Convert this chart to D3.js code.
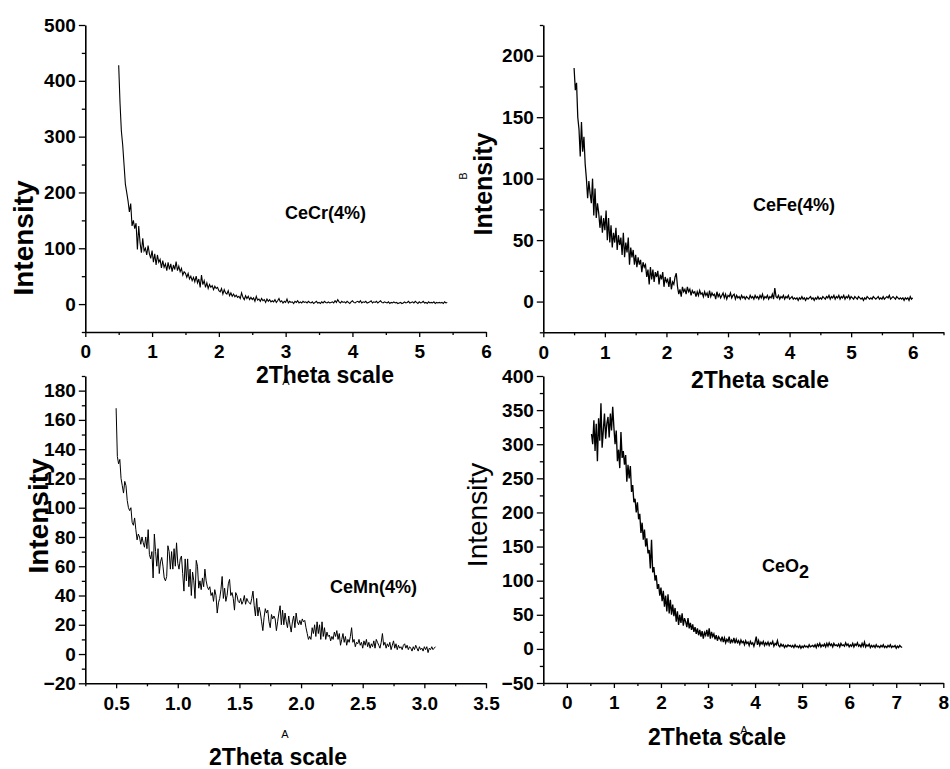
<!DOCTYPE html>
<html lang="en">
<head>
<meta charset="utf-8">
<title>Low angle XRD</title>
<script src="https://d3js.org/d3.v7.min.js"></script>
<style>
  * { margin: 0; padding: 0; }
  body { background: white; width: 950px; height: 769px; overflow: hidden; }
  svg { display: block; }
  .major .domain { stroke-width: 1.6px; }
  .minor .domain { stroke: none; }
  .tick line { stroke-width: 1.3px; }
</style>
</head>
<body>
<script>
const FONT = "'Liberation Sans', Arial, Helvetica, sans-serif";

// CeCr(4%) scan: 2theta from 0.50, step 0.02
const crStart = 0.5, crStep = 0.02;
const crIntensity = [
  428, 360, 310, 285, 250, 215, 200, 185, 165, 180,
  140, 150, 135, 145, 98, 140, 110, 92, 118, 95,
  100, 88, 105, 90, 82, 96, 75, 90, 70, 88,
  75, 80, 65, 78, 66, 72, 60, 75, 62, 72,
  58, 70, 62, 76, 60, 68, 58, 64, 52, 58,
  55, 48, 55, 45, 50, 42, 48, 40, 50, 38,
  45, 30, 52, 35, 42, 30, 38, 28, 35, 30,
  33, 26, 32, 28, 30, 24, 22, 28, 18, 26,
  20, 18, 24, 15, 20, 14, 18, 13, 16, 12,
  14, 10, 20, 12, 8, 15, 10, 14, 8, 12,
  8, 11, 5, 14, 7, 9, 5, 10, 6, 8,
  3, 9, 5, 8, 4, 6, 4, 8, 3, 6,
  10, 4, 6, 2, 5, 3, 9, 2, 5, 3,
  4, 1, 5, 3, 6, 2, 4, 2, 5, 3,
  4, 2, 5, 3, 2, 4, 1, 3, 5, 2,
  3, 1, 4, 2, 5, 3, 2, 4, 2, 3,
  4, 2, 6, 3, 8, 4, 2, 5, 3, 4,
  2, 5, 3, 1, 4, 6, 3, 2, 4, 5,
  3, 6, 2, 4, 3, 5, 2, 3, 4, 6,
  2, 4, 3, 5, 2, 4, 6, 3, 2, 4,
  3, 2, 4, 1, 3, 2, 4, 2, 3, 1,
  2, 3, 1, 2, 4, 2, 3, 5, 2, 3,
  4, 2, 5, 3, 1, 4, 2, 3, 5, 2,
  3, 1, 4, 2, 3, 2, 4, 1, 3, 2,
  3, 2, 3, 1, 4, 2, 3
];

// CeFe(4%) scan: 2theta from 0.50, step 0.02
const feStart = 0.5, feStep = 0.02;
const feIntensity = [
  190, 172, 178, 150, 140, 118, 146, 122, 134, 112,
  100, 84, 98, 88, 80, 100, 70, 92, 68, 80,
  72, 60, 70, 56, 68, 58, 74, 50, 68, 48,
  62, 44, 56, 48, 60, 42, 54, 46, 52, 38,
  56, 36, 48, 40, 52, 30, 44, 36, 42, 30,
  38, 28, 36, 30, 34, 24, 32, 28, 30, 20,
  26, 14, 28, 18, 26, 16, 24, 20, 25, 14,
  22, 18, 24, 12, 20, 16, 18, 12, 20, 10,
  16, 14, 20, 23, 12, 6, 10, 4, 12, 8,
  10, 6, 12, 8, 10, 5, 9, 7, 8, 4,
  8, 5, 9, 6, 7, 4, 8, 5, 7, 3,
  9, 4, 7, 5, 6, 2, 8, 4, 6, 3,
  5, 7, 3, 6, 2, 5, 4, 7, 3, 5,
  6, 2, 5, 3, 4, 2, 5, 3, 4, 2,
  4, 3, 2, 5, 3, 4, 2, 5, 3, 4,
  2, 5, 3, 6, 2, 4, 3, 5, 2, 4,
  3, 6, 2, 11, 4, 3, 5, 2, 4, 3,
  5, 2, 4, 3, 5, 2, 3, 4, 2, 3,
  2, 3, 1, 3, 2, 4, 2, 3, 1, 3,
  2, 3, 4, 2, 3, 1, 3, 2, 4, 2,
  3, 2, 4, 3, 2, 4, 3, 5, 2, 4,
  3, 5, 2, 4, 3, 5, 2, 4, 3, 5,
  2, 4, 3, 5, 2, 4, 3, 2, 4, 3,
  2, 4, 3, 2, 3, 1, 3, 2, 4, 3,
  2, 3, 2, 4, 3, 2, 3, 4, 2, 3,
  2, 4, 2, 3, 4, 3, 5, 2, 3, 4,
  3, 2, 4, 3, 2, 3, 2, 3, 1, 3,
  2, 3, 1, 4, 2, 3
];

// CeMn(4%) scan: 2theta from 0.50, step 0.01
const mnStart = 0.5, mnStep = 0.01;
const mnIntensity = [
  168, 135, 130, 133, 120, 115, 110, 118, 115, 105,
  100, 98, 100, 90, 88, 93, 85, 78, 82, 80,
  75, 80, 76, 73, 80, 72, 85, 68, 65, 70,
  52, 82, 70, 60, 72, 55, 63, 66, 60, 52,
  50, 53, 74, 70, 58, 70, 58, 72, 60, 76,
  62, 58, 65, 67, 55, 43, 65, 50, 65, 46,
  58, 40, 56, 50, 38, 64, 60, 45, 50, 44,
  52, 46, 58, 50, 46, 44, 46, 40, 42, 36,
  44, 40, 28, 35, 38, 44, 53, 38, 45, 36,
  40, 48, 51, 40, 42, 38, 30, 42, 40, 36,
  35, 38, 34, 36, 40, 34, 38, 36, 35, 34,
  38, 43, 33, 26, 38, 26, 32, 28, 22, 16,
  25, 31, 28, 30, 22, 18, 27, 24, 26, 24,
  16, 22, 28, 33, 20, 30, 20, 28, 22, 18,
  26, 20, 15, 22, 26, 18, 28, 22, 20, 23,
  20, 24, 22, 23, 18, 14, 10, 12, 10, 18,
  14, 20, 12, 22, 14, 20, 10, 22, 12, 18,
  10, 15, 12, 13, 9, 12, 10, 15, 12, 16,
  10, 14, 6, 10, 14, 8, 12, 6, 10, 8,
  12, 18, 8, 10, 5, 8, 7, 10, 6, 8,
  4, 9, 6, 10, 5, 8, 4, 7, 5, 9,
  4, 10, 8, 6, 4, 8, 14, 6, 8, 4,
  7, 5, 8, 3, 6, 9, 4, 7, 3, 6,
  4, 5, 3, 6, 7, 4, 6, 3, 5, 4,
  2, 5, 3, 6, 4, 2, 5, 3, 4, 2,
  5, 3, 5, 1, 4, 3, 5, 3, 4, 5
];

// CeO2 scan: 2theta from 0.525, step 0.025
const ceoStart = 0.525, ceoStep = 0.025;
const ceoIntensity = [
  315, 300, 335, 290, 330, 275, 338, 305, 360, 295,
  320, 345, 308, 330, 340, 310, 345, 320, 355, 325,
  300, 320, 275, 292, 265, 318, 280, 290, 270, 284,
  245, 270, 250, 268, 230, 240, 215, 220, 200, 215,
  190, 198, 170, 185, 160, 175, 150, 162, 140, 145,
  118, 160, 112, 120, 100, 108, 88, 95, 78, 90,
  70, 85, 62, 78, 55, 80, 52, 72, 50, 65,
  48, 60, 40, 55, 35, 50, 38, 52, 34, 45,
  40, 32, 45, 30, 38, 28, 36, 25, 32, 22,
  30, 20, 28, 18, 26, 15, 24, 20, 28, 18,
  30, 15, 25, 18, 22, 14, 20, 12, 18, 15,
  12, 18, 10, 16, 9, 14, 11, 18, 8, 13,
  10, 16, 8, 14, 9, 12, 7, 13, 9, 11,
  6, 12, 8, 10, 5, 11, 7, 9, 4, 10,
  18, 6, 12, 5, 10, 7, 11, 5, 9, 6,
  10, 5, 9, 7, 11, 4, 8, 6, 12, 5,
  3, 7, 4, 6, 2, 5, 3, 6, 4, 5,
  3, 5, 2, 6, 3, 4, 2, 5, 1, 4,
  2, 5, 3, 4, 2, 6, 3, 4, 5, 3,
  6, 2, 7, 4, 8, 3, 6, 4, 7, 3,
  8, 4, 9, 5, 7, 3, 8, 5, 6, 4,
  7, 3, 8, 5, 6, 4, 9, 5, 7, 3,
  6, 4, 8, 3, 7, 5, 9, 4, 6, 3,
  8, 4, 10, 3, 6, 4, 7, 2, 5, 3,
  5, 2, 6, 3, 4, 2, 5, 3, 6, 2,
  4, 2, 5, 3, 6, 2, 4, 3, 5, 1,
  4, 2, 5, 3, 2
];

// tick values
const crXTicks = [0, 1, 2, 3, 4, 5, 6];
const crXMinor = [0.5, 1.5, 2.5, 3.5, 4.5, 5.5];
const crYTicks = [0, 100, 200, 300, 400, 500];
const crYMinor = [-50, 50, 150, 250, 350, 450];

const feXTicks = [0, 1, 2, 3, 4, 5, 6];
const feXMinor = [0.5, 1.5, 2.5, 3.5, 4.5, 5.5, 6.5];
const feYTicks = [0, 50, 100, 150, 200];
const feYMinor = [-25, 25, 75, 125, 175, 225];

const mnXTicks = [0.5, 1.0, 1.5, 2.0, 2.5, 3.0, 3.5];
const mnXMinor = [0.25, 0.75, 1.25, 1.75, 2.25, 2.75, 3.25];
const mnYTicks = [-20, 0, 20, 40, 60, 80, 100, 120, 140, 160, 180];
const mnYMinor = [-10, 10, 30, 50, 70, 90, 110, 130, 150, 170, 190];

const ceoXTicks = [0, 1, 2, 3, 4, 5, 6, 7, 8];
const ceoXMinor = [-0.5, 0.5, 1.5, 2.5, 3.5, 4.5, 5.5, 6.5, 7.5];
const ceoYTicks = [-50, 0, 50, 100, 150, 200, 250, 300, 350, 400];
const ceoYMinor = [-25, 25, 75, 125, 175, 225, 275, 325, 375];

const svg = d3.select("body")
  .append("svg")
  .attr("width", 950)
  .attr("height", 769)
  .attr("font-family", FONT);

const drawPanel = (p) => {
  const x = d3.scaleLinear().domain(p.xDomain).range(p.xRange);
  const y = d3.scaleLinear().domain(p.yDomain).range(p.yRange);
  const g = svg.append("g");

  // minor ticks first, no labels
  g.append("g")
    .attr("class", "minor")
    .attr("transform", `translate(0,${p.yRange[0]})`)
    .call(d3.axisBottom(x).tickValues(p.xMinor).tickSize(3).tickSizeOuter(0).tickFormat(""));
  g.append("g")
    .attr("class", "minor")
    .attr("transform", `translate(${p.xRange[0]},0)`)
    .call(d3.axisLeft(y).tickValues(p.yMinor).tickSize(3.5).tickSizeOuter(0).tickFormat(""));

  const xAxis = g.append("g")
    .attr("class", "major")
    .attr("transform", `translate(0,${p.yRange[0]})`)
    .call(d3.axisBottom(x).tickValues(p.xTicks).tickSize(5).tickPadding(8)
      .tickSizeOuter(0).tickFormat(p.xFormat));
  const yAxis = g.append("g")
    .attr("class", "major")
    .attr("transform", `translate(${p.xRange[0]},0)`)
    .call(d3.axisLeft(y).tickValues(p.yTicks).tickSize(6.5).tickPadding(3)
      .tickSizeOuter(0).tickFormat(d3.format("d")));

  [xAxis, yAxis].forEach(a => a.selectAll("text")
    .attr("font-size", 19)
    .attr("font-weight", "bold")
    .attr("font-family", FONT));

  const line = d3.line()
    .x((d, i) => x(p.start + i * p.step))
    .y(d => y(d));

  g.append("path")
    .datum(p.values)
    .attr("d", line)
    .attr("fill", "none")
    .attr("stroke", "black")
    .attr("stroke-width", p.lineWidth)
    .attr("stroke-linejoin", "miter");
};

drawPanel({ xDomain: [0, 6], xRange: [85.3, 486], yDomain: [-50, 500], yRange: [332, 25],
  xTicks: crXTicks, xMinor: crXMinor, yTicks: crYTicks, yMinor: crYMinor, xFormat: d3.format("d"),
  start: crStart, step: crStep, values: crIntensity, lineWidth: 1.1 });

drawPanel({ xDomain: [0, 6.5], xRange: [543.3, 943.5], yDomain: [-25, 225], yRange: [332.3, 25],
  xTicks: feXTicks, xMinor: feXMinor, yTicks: feYTicks, yMinor: feYMinor, xFormat: d3.format("d"),
  start: feStart, step: feStep, values: feIntensity, lineWidth: 1.25 });

drawPanel({ xDomain: [0.25, 3.5], xRange: [85.3, 486], yDomain: [-20, 190], yRange: [683.3, 376],
  xTicks: mnXTicks, xMinor: mnXMinor, yTicks: mnYTicks, yMinor: mnYMinor, xFormat: d3.format(".1f"),
  start: mnStart, step: mnStep, values: mnIntensity, lineWidth: 1 });

drawPanel({ xDomain: [-0.5, 8], xRange: [543.3, 943.3], yDomain: [-50, 400], yRange: [683, 376],
  xTicks: ceoXTicks, xMinor: ceoXMinor, yTicks: ceoYTicks, yMinor: ceoYMinor, xFormat: d3.format("d"),
  start: ceoStart, step: ceoStep, values: ceoIntensity, lineWidth: 1.35 });

// axis titles
const addText = (txt, x, y, size, weight, anchor, rotate) => {
  return svg.append("text")
    .attr("transform", `translate(${x},${y})` + (rotate ? " rotate(-90)" : ""))
    .attr("text-anchor", anchor)
    .attr("font-size", size)
    .attr("font-weight", weight)
    .attr("fill", "black")
    .text(txt);
};

addText("Intensity", 33, 238, 28, "bold", "middle", true);
addText("Intensity", 492, 184, 25, "bold", "middle", true);
addText("B", 467, 176, 11, "normal", "middle", true);
addText("Intensity", 48, 516, 28, "bold", "middle", true);
addText("Intensity", 487, 515, 28, "normal", "middle", true);

addText("2Theta scale", 325, 383, 23, "bold", "middle", false);
addText("2Theta scale", 760, 388, 23, "bold", "middle", false);
addText("2Theta scale", 278, 765, 23, "bold", "middle", false);
addText("2Theta scale", 717, 745, 23, "bold", "middle", false);

// stray "A" markers sitting on the axis titles
addText("A", 286, 385, 11, "normal", "middle", false);
addText("A", 285, 738, 11, "normal", "middle", false);
addText("A", 744, 734, 11, "normal", "middle", false);

// sample names
addText("CeCr(4%)", 285, 219, 18, "bold", "start", false);
addText("CeFe(4%)", 753, 211, 18, "bold", "start", false);
addText("CeMn(4%)", 330, 593, 18, "bold", "start", false);
const ceo = addText("CeO", 762, 572, 18, "bold", "start", false);
ceo.append("tspan").attr("dy", 6).text("2");
</script>
</body>
</html>
